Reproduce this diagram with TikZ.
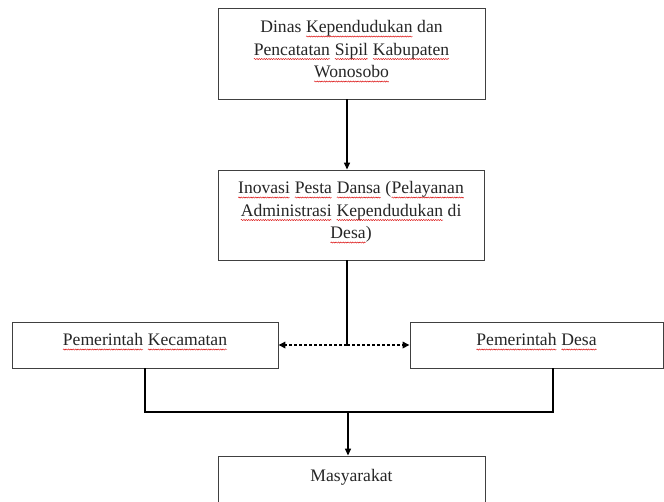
\documentclass[tikz,border=0pt]{standalone}
\usepackage{fontspec}
\setmainfont{Liberation Serif}
\usetikzlibrary{arrows.meta,calc,decorations.pathmorphing}
\newcommand\sq[1]{\tikz[baseline=(w.base)]{\node[inner sep=0pt,outer sep=0pt](w){#1};\draw[red!85!black, line width=0.45pt, decorate, decoration={snake,amplitude=0.55pt,segment length=2.4pt}] ([yshift=-3.6pt]w.base west) -- ([yshift=-3.6pt]w.base east);}}
\tikzset{
  box/.style={draw=black!75, line width=0.9pt, fill=white, inner sep=0pt},
  txt/.style={align=center, font=\fontsize{17.6}{22.5}\selectfont, text=black!85},
  conn/.style={line width=1.4pt, black},
  tip/.style={-{Triangle[length=7pt,width=6pt]}},
  dashconn/.style={line width=1.6pt, black, dash pattern=on 3.2pt off 1.8pt, -{Triangle[length=7pt,width=6.5pt]}},
}
\begin{document}
\begin{tikzpicture}[x=1pt,y=-1pt]
\useasboundingbox (0,0) rectangle (664,501);
\clip (0,0) rectangle (664,501);
% boxes
\node[box, minimum width=267pt, minimum height=91pt] (top) at (351.5,53.5) {};
\node[box, minimum width=266pt, minimum height=90pt] (mid) at (351,215) {};
\node[box, minimum width=266pt, minimum height=46pt] (left) at (145,345) {};
\node[box, minimum width=253pt, minimum height=46pt] (right) at (536.5,345) {};
\node[box, minimum width=267pt, minimum height=46pt] (bot) at (351.5,479) {};
% texts
\node[txt] (topt) at (351.5,51.5) {Dinas \sq{Kependudukan} dan\\ \sq{Pencatatan} \sq{Sipil} \sq{Kabupaten}\\ \sq{Wonosobo}};
\node[txt] (midt) at (351,212.5) {\sq{Inovasi} \sq{Pesta} \sq{Dansa} (\sq{Pelayanan}\\ \sq{Administrasi} \sq{Kependudukan} di\\ \sq{Desa})};
\node[txt] (leftt) at (145,342) {\sq{Pemerintah} \sq{Kecamatan}};
\node[txt] (rightt) at (536.5,342) {\sq{Pemerintah} \sq{Desa}};
\node[txt] (bott) at (351.5,477) {Masyarakat};
% junctions
\coordinate (j) at (347,345);
\coordinate (b) at (348,412);
\coordinate (rb) at (553,412);
% connectors
\draw[conn, tip] (top.south -| j) -- (mid.north -| j);
\draw[conn] (mid.south -| j) -- (j);
\draw[dashconn] (j) -- (left.east |- j);
\draw[dashconn] (j) -- (right.west |- j);
\draw[conn] (left.south) -- (left.south |- b) -- (rb) -- (rb |- right.south);
\draw[conn, tip] (b) -- (bot.north -| b);
\end{tikzpicture}
\end{document}
